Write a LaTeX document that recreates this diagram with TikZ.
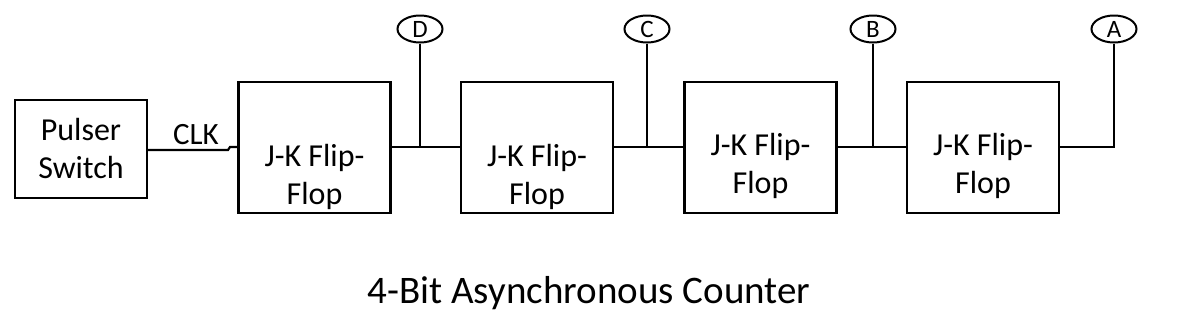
\documentclass[tikz,border=0pt]{standalone}
\usepackage{fontspec}
\setmainfont{Carlito}
\usetikzlibrary{shapes.geometric}
\begin{document}
\begin{tikzpicture}[x=1pt,y=-1pt,
  wire/.style={line width=2.2pt},
  ffbox/.style={draw,line width=2.2pt,minimum width=152pt,minimum height=131pt,inner sep=0pt},
  psbox/.style={draw,line width=2.2pt,minimum width=132pt,minimum height=98pt,inner sep=0pt,align=center,font=\fontsize{32}{38}\selectfont},
  fftext/.style={align=center,inner sep=0pt,font=\fontsize{32}{38}\selectfont},
  outlbl/.style={draw,ellipse,line width=2pt,minimum width=45pt,minimum height=27pt,inner sep=0pt,font=\fontsize{25}{27}\selectfont},
  clklbl/.style={inner sep=0pt,font=\fontsize{31}{36}\selectfont},
  ttl/.style={inner sep=0pt,font=\fontsize{39}{46}\selectfont}]
\useasboundingbox (0,0) rectangle (1184,319);
\node[psbox] (ps) at (81,149) {Pulser\\Switch};
\node[ffbox] (f1) at (314.5,147.5) {};
\node[ffbox] (f2) at (537,147.5) {};
\node[ffbox] (f3) at (760.5,147.5) {};
\node[ffbox] (f4) at (983,147.5) {};
\node[fftext] (t1) at (314.5,177) {J-K Flip-\\Flop};
\node[fftext] (t2) at (537,177) {J-K Flip-\\Flop};
\node[fftext] (t3) at (760.5,166) {J-K Flip-\\Flop};
\node[fftext] (t4) at (983,166) {J-K Flip-\\Flop};
\node[outlbl] (D) at (420,29) {D};
\node[outlbl] (C) at (647,29) {C};
\node[outlbl] (B) at (873,29) {B};
\node[outlbl] (A) at (1114,29) {A};
\node[clklbl] (clk) at (196,135) {CLK};
\node[ttl] (title) at (589,293) {4-Bit Asynchronous Counter};
\coordinate (j1) at (228,150);
\coordinate (j2) at (230,147);
\coordinate (dD) at (420,147);
\coordinate (dC) at (647,147);
\coordinate (dB) at (873,147);
\coordinate (dA) at (1114,147);
\draw[wire] (ps.east |- j1) -- (j1) -- (j2) -- (f1.west |- j2);
\draw[wire] (f1.east |- dD) -- (f2.west |- dD);
\draw[wire] (D.south) -- (dD);
\draw[wire] (f2.east |- dC) -- (f3.west |- dC);
\draw[wire] (C.south) -- (dC);
\draw[wire] (f3.east |- dB) -- (f4.west |- dB);
\draw[wire] (B.south) -- (dB);
\draw[wire,line join=miter] (f4.east |- dA) -- (dA) -- (A.south);
\end{tikzpicture}
\end{document}
